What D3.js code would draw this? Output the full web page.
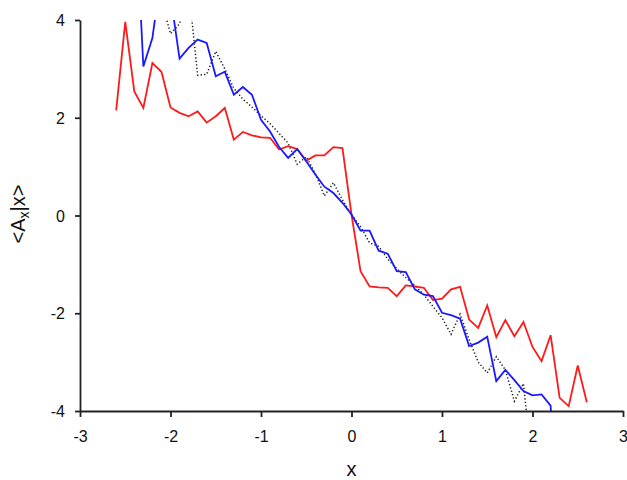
<!DOCTYPE html>
<html>
<head>
<meta charset="utf-8">
<script src="https://cdn.jsdelivr.net/npm/d3@7"></script>
<style>
  body { margin: 0; background: #fff; }
  svg { display: block; font-family: Arial, "Liberation Sans", sans-serif; }
  .axis path, .axis line { stroke: #222; stroke-width: 1.8; }
  .axis text { font-size: 16px; fill: #111; }
</style>
</head>
<body>
<div id="chart"></div>
<script>
// values
const xTicks = [-3, -2, -1, 0, 1, 2, 3];
const yTicks = [-4, -2, 0, 2, 4];

const redX = [-2.6,-2.5,-2.4,-2.3,-2.2,-2.1,-2.0,-1.9,-1.8,-1.7,-1.6,-1.5,-1.4,-1.3,-1.2,-1.1,-1.0,-0.9,-0.8,-0.7,-0.6,-0.5,-0.4,-0.3,-0.2,-0.1,
  0,0.1,0.2,0.3,0.4,0.5,0.6,0.7,0.8,0.9,1.0,1.1,1.2,1.3,1.4,1.5,1.6,1.7,1.8,1.9,2.0,2.1,2.2,2.3,2.4,2.5,2.6];
const redY = [2.15,3.96,2.54,2.20,3.12,2.94,2.21,2.10,2.03,2.13,1.90,2.03,2.20,1.55,1.71,1.64,1.60,1.59,1.35,1.42,
  1.36,1.12,1.23,1.23,1.40,1.38,0.02,-1.14,-1.45,-1.47,-1.48,-1.65,-1.43,-1.45,-1.48,-1.73,-1.70,-1.51,-1.46,-2.13,
  -2.30,-1.84,-2.49,-2.14,-2.47,-2.18,-2.69,-2.98,-2.45,-3.73,-3.90,-3.07,-3.82];

const blueX = [-2.4,-2.3,-2.2,-2.1,-2.0,-1.9,-1.8,-1.7,-1.6,-1.5,-1.4,-1.3,-1.2,-1.1,-1.0,-0.9,-0.8,-0.7,-0.6,-0.5,-0.4,-0.3,-0.2,-0.1,
  0,0.1,0.2,0.3,0.4,0.5,0.6,0.7,0.8,0.9,1.0,1.1,1.2,1.3,1.4,1.5,1.6,1.7,1.8,1.9,2.0,2.1,2.2,2.3];
const blueY = [6.8,3.05,3.63,5.0,4.5,3.21,3.43,3.60,3.53,2.85,2.94,2.47,2.63,2.47,1.96,1.72,1.40,1.18,1.36,1.11,
  0.84,0.59,0.46,0.26,0.02,-0.31,-0.31,-0.72,-0.78,-1.14,-1.16,-1.51,-1.62,-1.65,-1.99,-2.04,-2.11,-2.67,-2.60,-2.48,
  -3.39,-3.16,-3.37,-3.59,-3.68,-3.66,-3.89,-6.8];

const dotX = [-2.1,-2.0,-1.9,-1.8,-1.7,-1.6,-1.5,-1.4,-1.3,-1.2,-1.1,-1.0,-0.9,-0.8,-0.7,-0.6,-0.5,-0.4,-0.3,-0.2,-0.1,
  0,0.1,0.2,0.3,0.4,0.5,0.6,0.7,0.8,0.9,1.0,1.1,1.2,1.3,1.4,1.5,1.6,1.7,1.8,1.9,2.0];
const dotY = [4.4,3.72,3.92,4.65,2.87,2.89,3.36,3.0,2.6,2.38,2.22,2.04,1.88,1.68,1.48,1.05,1.2,0.86,0.40,0.67,
  0.32,0.02,-0.23,-0.56,-0.63,-0.89,-1.09,-1.27,-1.43,-1.62,-1.86,-2.09,-2.43,-2.02,-2.54,-3.0,-3.22,-2.89,-3.16,-3.80,
  -3.44,-5.2];

const W = 627, H = 480;
const mLeft = 80, mRight = 623, mTop = 20, mBottom = 411;

const svg = d3.select('#chart').append('svg')
  .attr('width', W).attr('height', H);

const x = d3.scaleLinear().domain([-3, 3]).range([mLeft, mRight]);
const y = d3.scaleLinear().domain([-4, 4]).range([mBottom, mTop]);

svg.append('clipPath').attr('id', 'plot')
  .append('rect')
  .attr('x', mLeft).attr('y', mTop)
  .attr('width', mRight - mLeft).attr('height', mBottom - mTop);

const line = d3.line().x(d => x(d[0])).y(d => y(d[1]));
const g = svg.append('g').attr('clip-path', 'url(#plot)');

// dotted series first, then the two solid ones on top
g.append('path')
  .attr('d', line(d3.zip(dotX, dotY)))
  .attr('fill', 'none').attr('stroke', '#222')
  .attr('stroke-width', 1.5).attr('stroke-dasharray', '1.3,2.2');

g.append('path')
  .attr('d', line(d3.zip(redX, redY)))
  .attr('fill', 'none').attr('stroke', '#ff1a1a').attr('stroke-width', 1.8);

g.append('path')
  .attr('d', line(d3.zip(blueX, blueY)))
  .attr('fill', 'none').attr('stroke', '#1a1aff').attr('stroke-width', 1.8);

// axes
svg.append('g').attr('class', 'axis')
  .attr('transform', `translate(0,${mBottom})`)
  .call(d3.axisBottom(x).tickValues(xTicks).tickSizeInner(6).tickSizeOuter(0)
    .tickPadding(14).tickFormat(d => String(d)));

svg.append('g').attr('class', 'axis')
  .attr('transform', `translate(${mLeft},0)`)
  .call(d3.axisLeft(y).tickValues(yTicks).tickSizeInner(5).tickSizeOuter(0)
    .tickPadding(10).tickFormat(d => String(d)))
  .selectAll('text').attr('dy', '0.35em');

// axis titles
svg.append('text')
  .attr('x', (mLeft + mRight) / 2).attr('y', 476)
  .attr('text-anchor', 'middle')
  .attr('font-size', 20).attr('fill', '#111')
  .text('x');

const yl = svg.append('text')
  .attr('transform', 'translate(25,214) rotate(-90)')
  .attr('text-anchor', 'middle')
  .attr('font-size', 20).attr('fill', '#111');
yl.append('tspan').text('<A');
yl.append('tspan').attr('font-size', 14).attr('dy', 4).text('x');
yl.append('tspan').attr('dy', -4).text('|x>');
</script>
</body>
</html>
